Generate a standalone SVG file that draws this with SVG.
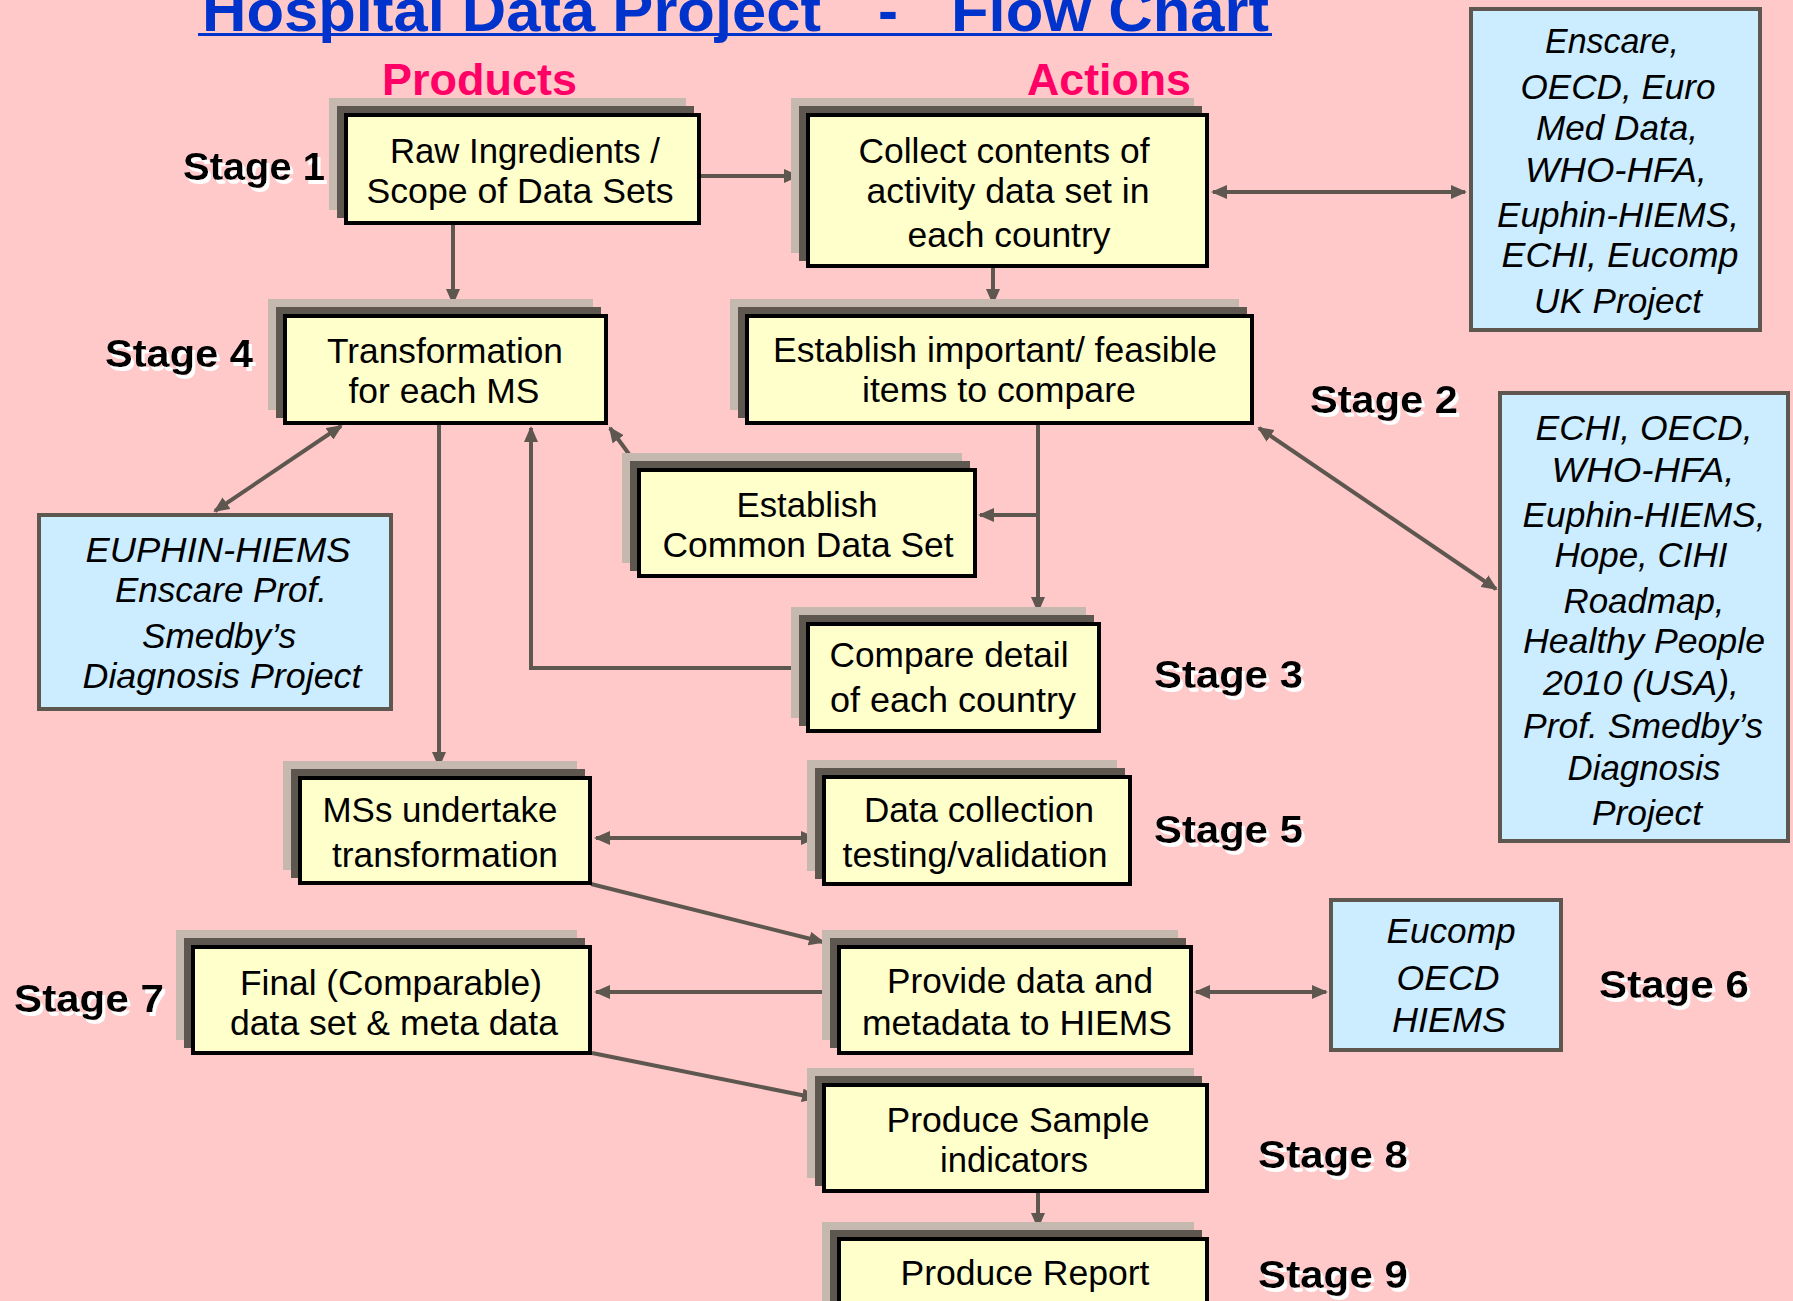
<svg xmlns="http://www.w3.org/2000/svg" width="1793" height="1301" viewBox="0 0 1793 1301">
<style>
.bg{fill:#FFC9C9}
.s1{fill:#C5B9AF}
.s2{fill:#5E574F}
.box{fill:#FFFFCC;stroke:#000;stroke-width:4}
.info{fill:#CCECFF;stroke:#5E574F;stroke-width:4}
text{font-family:"Liberation Sans",Arial,sans-serif}
.t{font-size:35px;text-anchor:middle;fill:#000}
.it{font-style:italic}
.st{font-size:38px;font-weight:bold;fill:#000;filter:url(#wsh)}
.hd{font-size:44px;font-weight:bold;fill:#FF0066}
.title{font-size:60px;font-weight:bold;fill:#0033CC}
.conn{stroke:#5E574F;stroke-width:4;fill:none}
.a{marker-end:url(#ah)}
.aa{marker-end:url(#ah);marker-start:url(#ah)}
</style>
<defs>
<marker id="ah" viewBox="0 0 16 14" refX="14" refY="7" markerWidth="16" markerHeight="14" markerUnits="userSpaceOnUse" orient="auto-start-reverse">
<path d="M0,0 L16,7 L0,14 z" fill="#5E574F"/>
</marker>
<filter id="wsh" x="-10%" y="-20%" width="130%" height="160%">
<feOffset in="SourceAlpha" dx="3" dy="4" result="off"/>
<feFlood flood-color="#FFFFFF" result="wh"/>
<feComposite in="wh" in2="off" operator="in" result="shadow"/>
<feMerge><feMergeNode in="shadow"/><feMergeNode in="SourceGraphic"/></feMerge>
</filter>
</defs>
<rect class="bg" x="0" y="0" width="1793" height="1301"/>

<g id="title">
<text class="title" x="202" y="31" textLength="619" lengthAdjust="spacingAndGlyphs">Hospital Data Project</text>
<text class="title" x="878" y="31" textLength="20" lengthAdjust="spacingAndGlyphs">-</text>
<text class="title" x="951" y="31" textLength="318" lengthAdjust="spacingAndGlyphs">Flow Chart</text>
<rect x="198" y="33" width="1074" height="3" fill="#0033CC"/>
</g>
<g id="headings">
<text class="hd" x="382" y="95" textLength="195" lengthAdjust="spacingAndGlyphs">Products</text>
<text class="hd" x="1027" y="95" textLength="164" lengthAdjust="spacingAndGlyphs">Actions</text>
</g>

<g id="stages">
<text id="stage1" class="st" x="183" y="180" textLength="142" lengthAdjust="spacingAndGlyphs">Stage 1</text>
<text id="stage4" class="st" x="105" y="367" textLength="148" lengthAdjust="spacingAndGlyphs">Stage 4</text>
<text id="stage2" class="st" x="1310" y="413" textLength="148" lengthAdjust="spacingAndGlyphs">Stage 2</text>
<text id="stage3" class="st" x="1154" y="688" textLength="149" lengthAdjust="spacingAndGlyphs">Stage 3</text>
<text id="stage5" class="st" x="1154" y="843" textLength="149" lengthAdjust="spacingAndGlyphs">Stage 5</text>
<text id="stage7" class="st" x="14" y="1012" textLength="150" lengthAdjust="spacingAndGlyphs">Stage 7</text>
<text id="stage6" class="st" x="1599" y="998" textLength="150" lengthAdjust="spacingAndGlyphs">Stage 6</text>
<text id="stage8" class="st" x="1258" y="1168" textLength="150" lengthAdjust="spacingAndGlyphs">Stage 8</text>
<text id="stage9" class="st" x="1258" y="1288" textLength="150" lengthAdjust="spacingAndGlyphs">Stage 9</text>
</g>

<g id="connectors">
<path class="conn a" d="M701,176 H798"/>
<path class="conn aa" d="M1213,192 H1465"/>
<path class="conn a" d="M993,268 V303"/>
<path class="conn a" d="M453,225 V303"/>
<path class="conn aa" d="M341,426 L215,511"/>
<path class="conn a" d="M439,425 V766"/>
<path class="conn a" d="M806,668 H531 V428"/>
<path class="conn a" d="M634,461 L610,428"/>
<path class="conn a" d="M1038,425 V611"/>
<path class="conn a" d="M1038,515 H980"/>
<path class="conn aa" d="M1259,428 L1496,589"/>
<path class="conn aa" d="M596,838 H815"/>
<path class="conn a" d="M591,884 L823,942"/>
<path class="conn a" d="M837,992 H596"/>
<path class="conn aa" d="M1196,992 H1326"/>
<path class="conn a" d="M592,1053 L816,1098"/>
<path class="conn a" d="M1038,1193 V1227"/>
</g>

<g id="n1">
<rect class="s1" x="329" y="98" width="357" height="112"/><rect class="s2" x="337" y="106" width="357" height="112"/>
<rect class="box" x="346" y="115" width="353" height="108"/>
<text class="t" x="525" y="163" textLength="270" lengthAdjust="spacingAndGlyphs">Raw Ingredients /</text>
<text class="t" x="520" y="203" textLength="307" lengthAdjust="spacingAndGlyphs">Scope of Data Sets</text>
</g>
<g id="n2">
<rect class="s1" x="791" y="98" width="403" height="155"/><rect class="s2" x="799" y="106" width="403" height="155"/>
<rect class="box" x="808" y="115" width="399" height="151"/>
<text class="t" x="1004" y="163" textLength="291" lengthAdjust="spacingAndGlyphs">Collect contents of</text>
<text class="t" x="1008" y="203" textLength="283" lengthAdjust="spacingAndGlyphs">activity data set in</text>
<text class="t" x="1009" y="247" textLength="203" lengthAdjust="spacingAndGlyphs">each country</text>
</g>
<g id="n3">
<rect class="s1" x="730" y="299" width="509" height="111"/><rect class="s2" x="738" y="307" width="509" height="111"/>
<rect class="box" x="747" y="316" width="505" height="107"/>
<text class="t" x="995" y="362" textLength="444" lengthAdjust="spacingAndGlyphs">Establish important/ feasible</text>
<text class="t" x="999" y="402" textLength="274" lengthAdjust="spacingAndGlyphs">items to compare</text>
</g>
<g id="n4">
<rect class="s1" x="268" y="299" width="325" height="111"/><rect class="s2" x="276" y="307" width="325" height="111"/>
<rect class="box" x="285" y="316" width="321" height="107"/>
<text class="t" x="445" y="363" textLength="236" lengthAdjust="spacingAndGlyphs">Transformation</text>
<text class="t" x="444" y="403" textLength="191" lengthAdjust="spacingAndGlyphs">for each MS</text>
</g>
<g id="n5">
<rect class="s1" x="622" y="453" width="340" height="110"/><rect class="s2" x="630" y="461" width="340" height="110"/>
<rect class="box" x="639" y="470" width="336" height="106"/>
<text class="t" x="807" y="517" textLength="141" lengthAdjust="spacingAndGlyphs">Establish</text>
<text class="t" x="808" y="557" textLength="291" lengthAdjust="spacingAndGlyphs">Common Data Set</text>
</g>
<g id="n6">
<rect class="s1" x="791" y="607" width="295" height="111"/><rect class="s2" x="799" y="615" width="295" height="111"/>
<rect class="box" x="808" y="624" width="291" height="107"/>
<text class="t" x="949" y="667" textLength="239" lengthAdjust="spacingAndGlyphs">Compare detail</text>
<text class="t" x="953" y="712" textLength="246" lengthAdjust="spacingAndGlyphs">of each country</text>
</g>
<g id="n7">
<rect class="s1" x="283" y="761" width="294" height="109"/><rect class="s2" x="291" y="769" width="294" height="109"/>
<rect class="box" x="300" y="778" width="290" height="105"/>
<text class="t" x="440" y="822" textLength="235" lengthAdjust="spacingAndGlyphs">MSs undertake</text>
<text class="t" x="445" y="867" textLength="226" lengthAdjust="spacingAndGlyphs">transformation</text>
</g>
<g id="n8">
<rect class="s1" x="807" y="760" width="310" height="111"/><rect class="s2" x="815" y="768" width="310" height="111"/>
<rect class="box" x="824" y="777" width="306" height="107"/>
<text class="t" x="979" y="822" textLength="230" lengthAdjust="spacingAndGlyphs">Data collection</text>
<text class="t" x="975" y="867" textLength="265" lengthAdjust="spacingAndGlyphs">testing/validation</text>
</g>
<g id="n9">
<rect class="s1" x="822" y="930" width="356" height="110"/><rect class="s2" x="830" y="938" width="356" height="110"/>
<rect class="box" x="839" y="947" width="352" height="106"/>
<text class="t" x="1020" y="993" textLength="266" lengthAdjust="spacingAndGlyphs">Provide data and</text>
<text class="t" x="1017" y="1035" textLength="310" lengthAdjust="spacingAndGlyphs">metadata to HIEMS</text>
</g>
<g id="n10">
<rect class="s1" x="176" y="930" width="401" height="110"/><rect class="s2" x="184" y="938" width="401" height="110"/>
<rect class="box" x="193" y="947" width="397" height="106"/>
<text class="t" x="391" y="995" textLength="302" lengthAdjust="spacingAndGlyphs">Final (Comparable)</text>
<text class="t" x="394" y="1035" textLength="328" lengthAdjust="spacingAndGlyphs">data set &amp; meta data</text>
</g>
<g id="n11">
<rect class="s1" x="807" y="1068" width="387" height="110"/><rect class="s2" x="815" y="1076" width="387" height="110"/>
<rect class="box" x="824" y="1085" width="383" height="106"/>
<text class="t" x="1018" y="1132" textLength="263" lengthAdjust="spacingAndGlyphs">Produce Sample</text>
<text class="t" x="1014" y="1172" textLength="148" lengthAdjust="spacingAndGlyphs">indicators</text>
</g>
<g id="n12">
<rect class="s1" x="822" y="1222" width="372" height="110"/><rect class="s2" x="830" y="1230" width="372" height="110"/>
<rect class="box" x="839" y="1239" width="368" height="106"/>
<text class="t" x="1025" y="1285" textLength="249" lengthAdjust="spacingAndGlyphs">Produce Report</text>
</g>

<g id="i1">
<rect class="info" x="1471" y="9" width="289" height="321"/>
<text class="t it" x="1612" y="53" textLength="134" lengthAdjust="spacingAndGlyphs">Enscare,</text>
<text class="t it" x="1618" y="99" textLength="195" lengthAdjust="spacingAndGlyphs">OECD, Euro</text>
<text class="t it" x="1617" y="140" textLength="162" lengthAdjust="spacingAndGlyphs">Med Data,</text>
<text class="t it" x="1616" y="182" textLength="182" lengthAdjust="spacingAndGlyphs">WHO-HFA,</text>
<text class="t it" x="1618" y="227" textLength="242" lengthAdjust="spacingAndGlyphs">Euphin-HIEMS,</text>
<text class="t it" x="1620" y="267" textLength="237" lengthAdjust="spacingAndGlyphs">ECHI, Eucomp</text>
<text class="t it" x="1618" y="313" textLength="168" lengthAdjust="spacingAndGlyphs">UK Project</text>
</g>
<g id="i2">
<rect class="info" x="39" y="515" width="352" height="194"/>
<text class="t it" x="218" y="562" textLength="265" lengthAdjust="spacingAndGlyphs">EUPHIN-HIEMS</text>
<text class="t it" x="221" y="602" textLength="212" lengthAdjust="spacingAndGlyphs">Enscare Prof.</text>
<text class="t it" x="219" y="648" textLength="154" lengthAdjust="spacingAndGlyphs">Smedby’s</text>
<text class="t it" x="222" y="688" textLength="279" lengthAdjust="spacingAndGlyphs">Diagnosis Project</text>
</g>
<g id="i3">
<rect class="info" x="1500" y="393" width="288" height="448"/>
<text class="t it" x="1644" y="440" textLength="217" lengthAdjust="spacingAndGlyphs">ECHI, OECD,</text>
<text class="t it" x="1643" y="482" textLength="183" lengthAdjust="spacingAndGlyphs">WHO-HFA,</text>
<text class="t it" x="1644" y="527" textLength="243" lengthAdjust="spacingAndGlyphs">Euphin-HIEMS,</text>
<text class="t it" x="1641" y="567" textLength="173" lengthAdjust="spacingAndGlyphs">Hope, CIHI</text>
<text class="t it" x="1644" y="613" textLength="161" lengthAdjust="spacingAndGlyphs">Roadmap,</text>
<text class="t it" x="1644" y="653" textLength="242" lengthAdjust="spacingAndGlyphs">Healthy People</text>
<text class="t it" x="1641" y="695" textLength="196" lengthAdjust="spacingAndGlyphs">2010 (USA),</text>
<text class="t it" x="1643" y="738" textLength="240" lengthAdjust="spacingAndGlyphs">Prof. Smedby’s</text>
<text class="t it" x="1644" y="780" textLength="153" lengthAdjust="spacingAndGlyphs">Diagnosis</text>
<text class="t it" x="1647" y="825" textLength="110" lengthAdjust="spacingAndGlyphs">Project</text>
</g>
<g id="i4">
<rect class="info" x="1331" y="900" width="230" height="150"/>
<text class="t it" x="1451" y="943" textLength="129" lengthAdjust="spacingAndGlyphs">Eucomp</text>
<text class="t it" x="1448" y="990" textLength="103" lengthAdjust="spacingAndGlyphs">OECD</text>
<text class="t it" x="1449" y="1032" textLength="114" lengthAdjust="spacingAndGlyphs">HIEMS</text>
</g>
</svg>
